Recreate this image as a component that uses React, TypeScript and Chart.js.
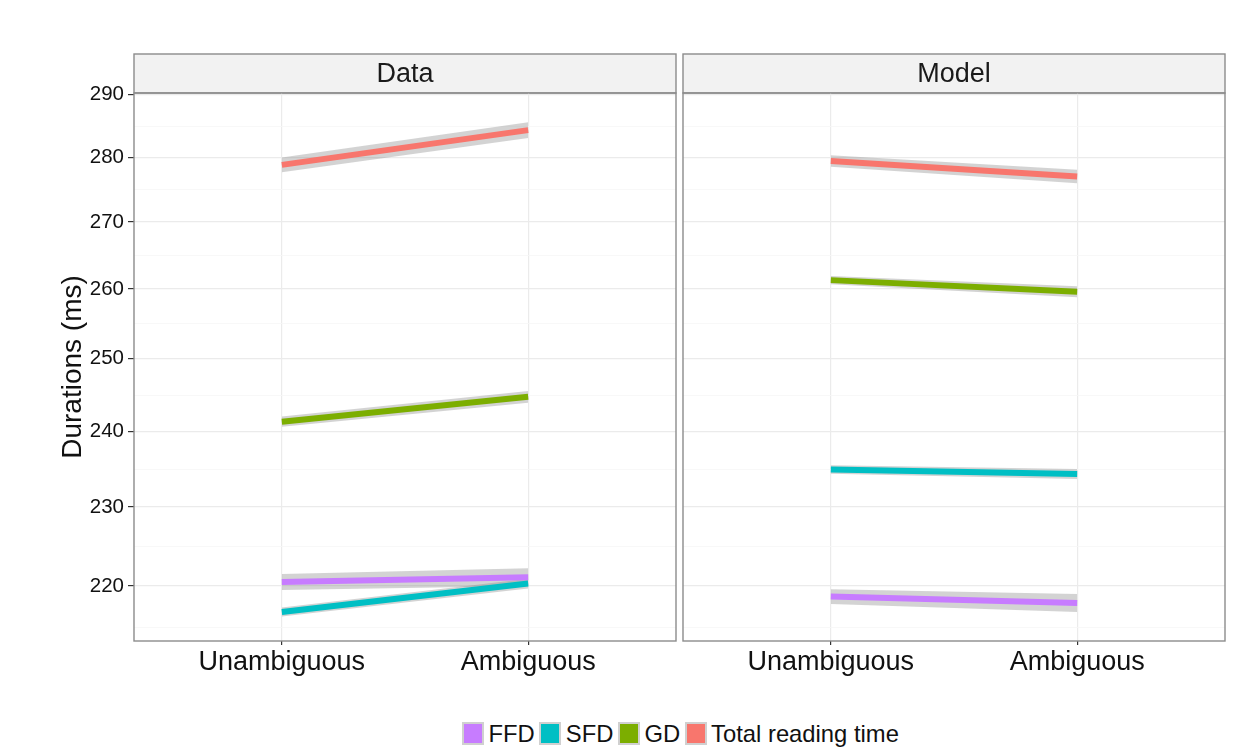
import { useEffect, useRef } from 'react';
import { Chart, registerables } from 'chart.js';

Chart.register(...registerables);

const FONT = '"Liberation Sans", Arial, Helvetica, sans-serif';
Chart.defaults.font.family = FONT;

// Conditions on the x axis and the four reading measures
const categories = ['Unambiguous', 'Ambiguous'];
const seriesNames = ['FFD', 'SFD', 'GD', 'Total reading time'];
const seriesColors = ['#C77CFF', '#00BFC4', '#7CAE00', '#F8766D'];

// Observed means (ms) for Unambiguous / Ambiguous
const dataFFD = [220.5, 221.1];
const dataSFD = [216.8, 220.3];
const dataGD = [241.3, 244.7];
const dataTotal = [278.8, 284.3];

// Half-width of the observed confidence band (ms)
const dataFFDci = [1.0, 1.1];
const dataSFDci = [0.55, 0.6];
const dataGDci = [0.7, 0.8];
const dataTotalci = [1.15, 1.25];

// Model predictions (ms)
const modelFFD = [218.7, 217.9];
const modelSFD = [234.9, 234.3];
const modelGD = [261.3, 259.6];
const modelTotal = [279.4, 277.0];

// Half-width of the predicted band (ms)
const modelFFDci = [0.9, 1.1];
const modelSFDci = [0.55, 0.65];
const modelGDci = [0.6, 0.8];
const modelTotalci = [0.9, 1.05];

// Y axis (log scale) labelled breaks and limits
const yMajorTicks = [220, 230, 240, 250, 260, 270, 280, 290];
const yMin = 213.3;
const yMax = 290.3;

// minor gridlines sit halfway between breaks on the log scale
const yMinorTicks = [210, ...yMajorTicks]
  .map((v, i, a) => (i < a.length - 1 ? Math.sqrt(v * a[i + 1]) : NaN))
  .filter((v) => !isNaN(v));
const yAllTicks = [...yMajorTicks, ...yMinorTicks].sort((a, b) => a - b);
const isMajor = (v: number | undefined) =>
  v !== undefined && yMajorTicks.some((m) => Math.abs(m - v) < 1e-6);

const CANVAS_H = 700;
const STRIP_TOP = 54;
const PANEL_TOP = 93;
const PANEL_BOTTOM = 641;

const panelFrame = {
  id: 'panelFrame',
  beforeDraw(chart: any, _args: any, opts: any) {
    const { ctx, chartArea } = chart;
    const { left, right, top } = chartArea;
    ctx.save();
    ctx.fillStyle = '#ffffff';
    ctx.fillRect(0, 0, chart.width, chart.height);
    ctx.fillStyle = '#f2f2f2';
    ctx.fillRect(left, STRIP_TOP, right - left, top - STRIP_TOP);
    ctx.strokeStyle = '#8c8c8c';
    ctx.lineWidth = 1.4;
    ctx.strokeRect(left, STRIP_TOP, right - left, top - STRIP_TOP);
    ctx.fillStyle = '#1a1a1a';
    ctx.font = `27px ${FONT}`;
    ctx.textAlign = 'center';
    ctx.textBaseline = 'middle';
    ctx.fillText(opts.label, (left + right) / 2, (STRIP_TOP + top) / 2 + 1);
    ctx.restore();
  },
  afterDraw(chart: any) {
    const { ctx, chartArea } = chart;
    const { left, right, top, bottom } = chartArea;
    ctx.save();
    ctx.strokeStyle = '#8c8c8c';
    ctx.lineWidth = 1.4;
    ctx.strokeRect(left, top, right - left, bottom - top);
    ctx.restore();
  },
};

type PanelProps = {
  label: string;
  means: number[][];
  halves: number[][];
  left: number;
  width: number;
  showAxis: boolean;
};

function Panel({ label, means, halves, left, width, showAxis }: PanelProps) {
  const ref = useRef<HTMLCanvasElement>(null);

  useEffect(() => {
    const datasets: any[] = [];
    const pts = (vals: number[]) => vals.map((y, i) => ({ x: i + 1, y }));
    // grey confidence ribbons: upper edge filled down to the lower edge
    means.forEach((m, s) => {
      const h = halves[s];
      datasets.push({
        label: `${seriesNames[s]} upper`,
        data: pts(m.map((v, i) => v + h[i])),
        borderWidth: 0,
        pointRadius: 0,
        backgroundColor: 'rgba(140,140,140,0.38)',
        fill: '+1',
        order: 10,
      });
      datasets.push({
        label: `${seriesNames[s]} lower`,
        data: pts(m.map((v, i) => v - h[i])),
        borderWidth: 0,
        pointRadius: 0,
        fill: false,
        order: 10,
      });
    });
    // coloured mean lines on top
    means.forEach((m, s) => {
      datasets.push({
        label: seriesNames[s],
        data: pts(m),
        borderColor: seriesColors[s],
        borderWidth: 6,
        borderCapStyle: 'butt',
        pointRadius: 0,
        fill: false,
        order: 4 - s,
      });
    });

    const chart = new Chart(ref.current!, {
      type: 'line',
      data: { datasets },
      plugins: [panelFrame],
      options: {
        responsive: false,
        animation: false,
        events: [],
        layout: { padding: { left: 0, right: 4, top: PANEL_TOP, bottom: 0 } },
        plugins: {
          legend: { display: false },
          tooltip: { enabled: false },
          panelFrame: { label },
        } as any,
        scales: {
          x: {
            type: 'linear',
            min: 0.4,
            max: 2.6,
            bounds: 'data',
            afterBuildTicks: (s: any) => {
              s.ticks = categories.map((_, i) => ({ value: i + 1 }));
            },
            afterFit: (s: any) => {
              s.height = CANVAS_H - PANEL_BOTTOM;
            },
            ticks: {
              autoSkip: false,
              maxRotation: 0,
              padding: 1,
              color: '#111111',
              font: { size: 27 },
              callback: (v: any) => categories[Math.round(Number(v)) - 1] ?? '',
            },
            grid: {
              color: '#ebebeb',
              lineWidth: 1.2,
              tickColor: '#333333',
              tickLength: 4,
            },
            border: { display: false },
          },
          y: {
            type: 'logarithmic',
            min: yMin,
            max: yMax,
            bounds: 'data',
            afterBuildTicks: (s: any) => {
              s.ticks = yAllTicks.map((v) => ({ value: v }));
            },
            afterFit: (s: any) => {
              s.width = showAxis ? 134 : 4;
            },
            title: {
              display: showAxis,
              text: 'Durations (ms)',
              color: '#111111',
              font: { size: 28 },
              padding: { top: 56, bottom: 0 },
            },
            ticks: {
              display: showAxis,
              autoSkip: false,
              padding: 4,
              color: '#111111',
              font: { size: 20.5 },
              callback: (v: any) => (isMajor(Number(v)) ? String(Math.round(Number(v))) : ''),
            },
            grid: {
              drawTicks: showAxis,
              tickLength: 6,
              color: (c: any) => (isMajor(c.tick?.value) ? '#ebebeb' : '#f6f6f6'),
              lineWidth: (c: any) => (isMajor(c.tick?.value) ? 1.2 : 0.8),
              tickColor: (c: any) => (isMajor(c.tick?.value) ? '#333333' : 'rgba(0,0,0,0)'),
            },
            border: { display: false },
          },
        },
      } as any,
    });
    return () => chart.destroy();
  }, []);

  return (
    <canvas
      ref={ref}
      width={width}
      height={CANVAS_H}
      style={{ position: 'absolute', left, top: 0, width, height: CANVAS_H }}
    />
  );
}

function Legend() {
  return (
    <div
      style={{
        position: 'absolute',
        left: 462,
        top: 721,
        height: 25,
        display: 'flex',
        alignItems: 'center',
        fontFamily: FONT,
        fontSize: 23.8,
        color: '#111111',
        whiteSpace: 'nowrap',
      }}
    >
      {seriesNames.map((name, i) => (
        <div key={name} style={{ display: 'flex', alignItems: 'center' }}>
          <div
            style={{
              width: 18,
              height: 19,
              background: seriesColors[i],
              border: '2px solid #d0d0d0',
              marginRight: 4.5,
            }}
          />
          <span style={{ marginRight: 4.5, lineHeight: '25px' }}>{name}</span>
        </div>
      ))}
    </div>
  );
}

export default function App() {
  return (
    <div
      style={{
        position: 'absolute',
        left: 0,
        top: 0,
        width: 1247,
        height: 755,
        background: '#ffffff',
        overflow: 'hidden',
      }}
    >
      <Panel
        label="Data"
        means={[dataFFD, dataSFD, dataGD, dataTotal]}
        halves={[dataFFDci, dataSFDci, dataGDci, dataTotalci]}
        left={0}
        width={680}
        showAxis={true}
      />
      <Panel
        label="Model"
        means={[modelFFD, modelSFD, modelGD, modelTotal]}
        halves={[modelFFDci, modelSFDci, modelGDci, modelTotalci]}
        left={679}
        width={550}
        showAxis={false}
      />
      <Legend />
    </div>
  );
}
